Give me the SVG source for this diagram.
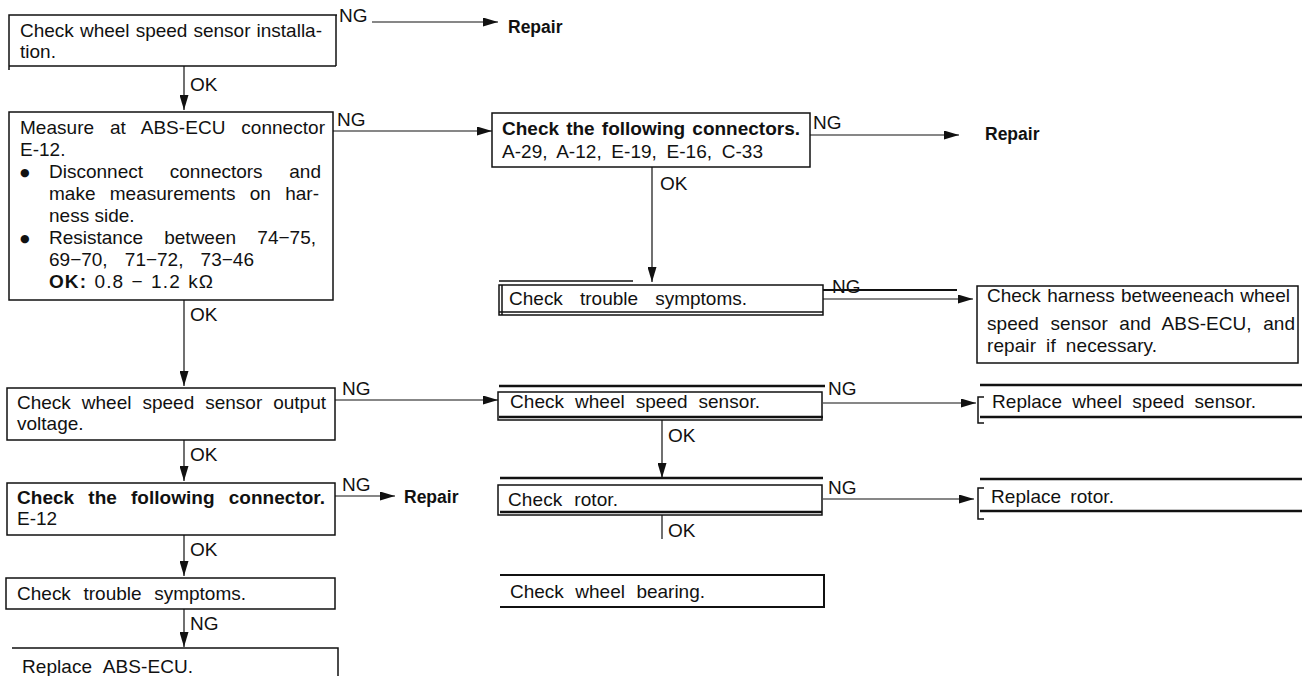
<svg xmlns="http://www.w3.org/2000/svg" width="1302" height="676" viewBox="0 0 1302 676">
<style>
.t{font-family:"Liberation Sans",Arial,Helvetica,sans-serif;font-size:19px;fill:#111}
.b{font-weight:bold}
.rp{font-family:"Liberation Sans",Arial,Helvetica,sans-serif;font-size:17.5px;font-weight:bold;fill:#111}
.bul{font-family:"DejaVu Sans",sans-serif;font-size:11px;fill:#111}
.box{fill:none;stroke:#111;stroke-width:1.5}
.thick{stroke:#111;stroke-width:2.5;fill:none}
.c{stroke:#111;stroke-width:1.2;fill:none}
</style>
<defs>
<marker id="ah" markerUnits="userSpaceOnUse" markerWidth="15" markerHeight="9" refX="15" refY="4.5" orient="auto">
<path d="M0,0 L15,4.5 L0,9 z" fill="#111"/>
</marker>
</defs>
<rect width="1302" height="676" fill="#fff"/>

<g id="connectors">
<line class="c" x1="372" y1="22" x2="498" y2="22" marker-end="url(#ah)"/>
<text class="t" x="339" y="22">NG</text>
<text class="rp" x="508" y="33">Repair</text>

<line class="c" x1="184" y1="66" x2="184" y2="110" marker-end="url(#ah)"/>
<text class="t" x="190" y="91">OK</text>

<line class="c" x1="333" y1="131" x2="492" y2="131" marker-end="url(#ah)"/>
<text class="t" x="337" y="126">NG</text>

<line class="c" x1="184" y1="300" x2="184" y2="386" marker-end="url(#ah)"/>
<text class="t" x="190" y="321">OK</text>

<line class="c" x1="335" y1="400" x2="498" y2="400" marker-end="url(#ah)"/>
<text class="t" x="342" y="395">NG</text>

<line class="c" x1="184" y1="440" x2="184" y2="481" marker-end="url(#ah)"/>
<text class="t" x="190" y="461">OK</text>

<line class="c" x1="335" y1="496" x2="395" y2="496" marker-end="url(#ah)"/>
<text class="t" x="342" y="491">NG</text>
<text class="rp" x="404" y="503">Repair</text>

<line class="c" x1="184" y1="535" x2="184" y2="576" marker-end="url(#ah)"/>
<text class="t" x="190" y="556">OK</text>

<line class="c" x1="184" y1="609" x2="184" y2="647" marker-end="url(#ah)"/>
<text class="t" x="190" y="630">NG</text>

<line class="c" x1="810" y1="135" x2="959" y2="135" marker-end="url(#ah)"/>
<text class="t" x="813" y="129">NG</text>
<text class="rp" x="985" y="140">Repair</text>

<line class="c" x1="652" y1="167" x2="652" y2="282" marker-end="url(#ah)"/>
<text class="t" x="660" y="190">OK</text>

<line class="thick" x1="823" y1="290" x2="957" y2="290" style="stroke-width:2"/>
<line class="c" x1="823" y1="299" x2="973" y2="299" marker-end="url(#ah)"/>
<text class="t" x="832" y="293">NG</text>

<line class="c" x1="823" y1="403" x2="976" y2="403" marker-end="url(#ah)"/>
<text class="t" x="828" y="395">NG</text>

<line class="c" x1="662" y1="420" x2="662" y2="478" marker-end="url(#ah)"/>
<text class="t" x="668" y="442">OK</text>

<line class="c" x1="823" y1="499" x2="974" y2="499" marker-end="url(#ah)"/>
<text class="t" x="828" y="494">NG</text>

<line class="c" x1="662" y1="515" x2="662" y2="539"/>
<text class="t" x="668" y="537">OK</text>
</g>

<g id="n1">
<polyline class="box" points="9,70 9,15 337,15"/>
<line class="box" x1="336" y1="15" x2="336" y2="66"/>
<line class="box" x1="9" y1="66" x2="336" y2="66"/>
<text class="t" x="20" y="37" style="word-spacing:0.8px" textLength="302" lengthAdjust="spacing">Check wheel speed sensor installa-</text>
<text class="t" x="20" y="58">tion.</text>
</g>

<g id="n2">
<rect class="box" x="9" y="112" width="324" height="188"/>
<text class="t" x="20" y="134" style="word-spacing:10.5px" textLength="305" lengthAdjust="spacing">Measure at ABS-ECU connector</text>
<text class="t" x="20" y="156">E-12.</text>
<text class="bul" x="20" y="176">●</text>
<text class="t" x="49" y="178" style="word-spacing:21.4px" textLength="272" lengthAdjust="spacing">Disconnect connectors and</text>
<text class="t" x="49" y="200" style="word-spacing:9px" textLength="270" lengthAdjust="spacing">make measurements on har-</text>
<text class="t" x="49" y="222">ness side.</text>
<text class="bul" x="20" y="242">●</text>
<text class="t" x="49" y="244" style="word-spacing:16px" textLength="267" lengthAdjust="spacing">Resistance between 74−75,</text>
<text class="t" x="49" y="266" style="word-spacing:11.9px" textLength="205" lengthAdjust="spacing">69−70, 71−72, 73−46</text>
<text class="t" x="49" y="288" style="word-spacing:1px" textLength="164" lengthAdjust="spacing"><tspan class="b">OK:</tspan> 0.8 − 1.2 kΩ</text>
</g>

<g id="n3">
<rect class="box" x="7" y="388" width="328" height="52"/>
<text class="t" x="17" y="409" style="word-spacing:5.7px" textLength="309" lengthAdjust="spacing">Check wheel speed sensor output</text>
<text class="t" x="17" y="430">voltage.</text>
</g>

<g id="n4">
<rect class="box" x="7" y="483" width="328" height="52"/>
<text class="t b" x="17" y="504" style="word-spacing:8.8px" textLength="308" lengthAdjust="spacing">Check the following connector.</text>
<text class="t" x="17" y="525">E-12</text>
</g>

<g id="n5">
<rect class="box" x="6" y="578" width="329" height="31"/>
<text class="t" x="17" y="600" style="word-spacing:7.3px" textLength="229" lengthAdjust="spacing">Check trouble symptoms.</text>
</g>

<g id="n6">
<polyline class="box" points="12,648 338,648 338,676"/>
<text class="t" x="22" y="673" style="word-spacing:6.3px" textLength="171" lengthAdjust="spacing">Replace ABS-ECU.</text>
</g>

<g id="n7">
<rect class="box" x="492" y="113" width="318" height="54"/>
<text class="t b" x="502" y="135" style="word-spacing:1.9px" textLength="298" lengthAdjust="spacing">Check the following connectors.</text>
<text class="t" x="502" y="158" style="word-spacing:4.3px" textLength="261" lengthAdjust="spacing">A-29, A-12, E-19, E-16, C-33</text>
</g>

<g id="n8">
<line class="thick" x1="499" y1="281" x2="633" y2="281" style="stroke-width:1.5"/>
<rect class="box" x="499" y="285" width="324" height="30"/>
<line class="thick" x1="499" y1="312" x2="823" y2="312" style="stroke-width:1.5"/>
<line class="box" x1="502" y1="285" x2="502" y2="315"/>
<text class="t" x="509" y="305" style="word-spacing:11.8px" textLength="238" lengthAdjust="spacing">Check trouble symptoms.</text>
</g>

<g id="n9">
<rect class="box" x="977" y="286" width="321" height="77"/>
<text class="t" x="987" y="302" style="word-spacing:1px" textLength="303" lengthAdjust="spacing">Check harness betweeneach wheel</text>
<text class="t" x="987" y="330" style="word-spacing:6.2px" textLength="308" lengthAdjust="spacing">speed sensor and ABS-ECU, and</text>
<text class="t" x="987" y="352" style="word-spacing:4.7px" textLength="170" lengthAdjust="spacing">repair if necessary.</text>
</g>

<g id="n10">
<line class="thick" x1="499" y1="386" x2="825" y2="386"/>
<rect class="box" x="498" y="392" width="324" height="28"/>
<line class="thick" x1="499" y1="417" x2="823" y2="417"/>
<text class="t" x="510" y="408" style="word-spacing:5.5px" textLength="250" lengthAdjust="spacing">Check wheel speed sensor.</text>
</g>

<g id="n11">
<line class="thick" x1="980" y1="385" x2="1302" y2="385"/>
<line class="thick" x1="980" y1="417" x2="1302" y2="417"/>
<polyline class="box" points="984,397 978,397 978,423 984,423"/>
<text class="t" x="992" y="408" style="word-spacing:4.9px" textLength="264" lengthAdjust="spacing">Replace wheel speed sensor.</text>
</g>

<g id="n12">
<line class="thick" x1="500" y1="478" x2="823" y2="478"/>
<rect class="box" x="498" y="485" width="324" height="30"/>
<line class="thick" x1="500" y1="512" x2="822" y2="512"/>
<text class="t" x="508" y="506" style="word-spacing:6.5px" textLength="110" lengthAdjust="spacing">Check rotor.</text>
</g>

<g id="n13">
<line class="thick" x1="980" y1="479" x2="1302" y2="479"/>
<line class="thick" x1="980" y1="511" x2="1302" y2="511"/>
<polyline class="box" points="984,488 978,488 978,519 984,519"/>
<text class="t" x="991" y="503" style="word-spacing:3.7px" textLength="123" lengthAdjust="spacing">Replace rotor.</text>
</g>

<g id="n14">
<polyline class="box" points="500,575 824,575 824,607 500,607" style="stroke-width:2"/>
<text class="t" x="510" y="598" style="word-spacing:6.2px" textLength="195" lengthAdjust="spacing">Check wheel bearing.</text>
</g>
</svg>
